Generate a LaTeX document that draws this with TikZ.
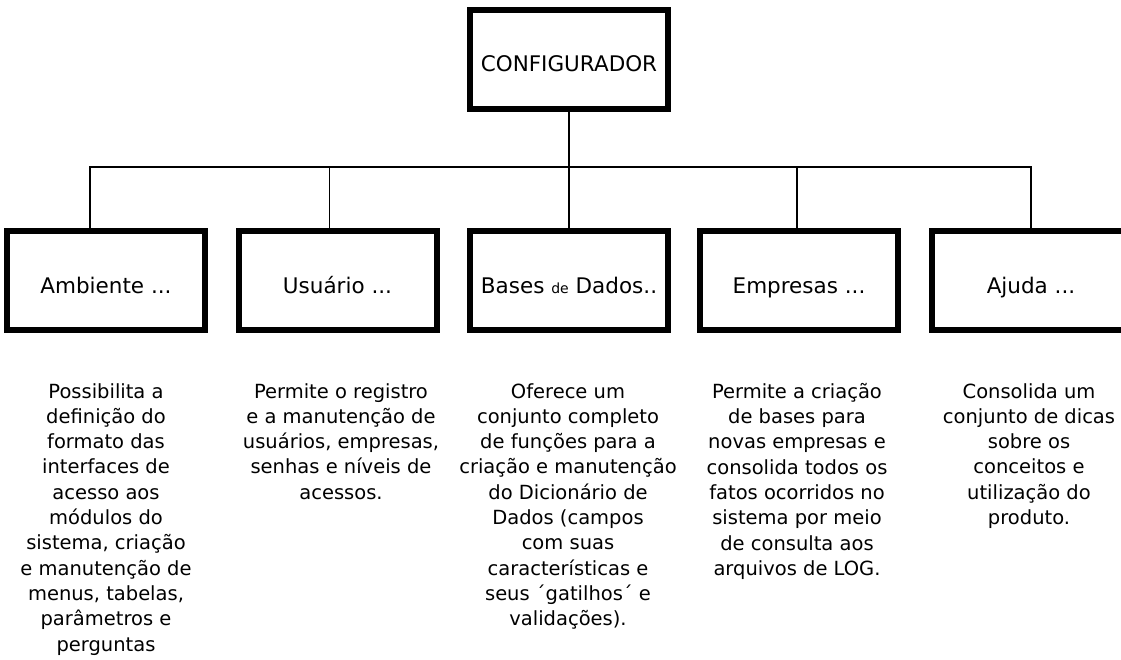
\documentclass[tikz,border=0pt]{standalone}
\usepackage{fontspec}
\setmainfont{DejaVu Sans}
\usetikzlibrary{positioning,calc}

\begin{document}
\begin{tikzpicture}[x=1pt, y=-1pt,
  modbox/.style={draw, line width=6pt, minimum width=198pt, minimum height=99pt,
    inner sep=0pt, text height=25pt, text depth=0pt,
    font=\fontsize{21.5}{26}\selectfont},
  desc/.style={anchor=north, align=center, inner sep=0pt,
    font=\fontsize{19.5}{25.3}\selectfont},
  conn/.style={line width=1.5pt}]
\useasboundingbox (0,0) rectangle (1121,660);
\clip (0,0) rectangle (1121,660);
% ---------- root ----------
\node[modbox] (cfg) at (569,59.5) {CONFIGURADOR};
% ---------- modules ----------
\node[modbox] (amb) at (106,280.5) {Ambiente ...};
\node[modbox] (usu) at (337.5,280.5) {Usuário ...};
\node[modbox] (bas) at (569,280.5) {Bases {\fontsize{14}{16}\selectfont de} Dados..};
\node[modbox] (emp) at (799,280.5) {Empresas ...};
\node[modbox] (aju) at (1031,280.5) {Ajuda ...};
% ---------- links ----------
\coordinate (bus) at (569,167);
\draw[conn] (cfg.south) -- (bas.north);
\draw[conn] ([xshift=-16pt]amb.north) -- ([xshift=-16pt]amb.north |- bus) -- (aju.north |- bus) -- (aju.north);
\draw[conn] ([xshift=-8pt]usu.north |- bus) -- ([xshift=-8pt]usu.north);
\draw[conn] ([xshift=-2pt]emp.north |- bus) -- ([xshift=-2pt]emp.north);
% ---------- descriptions ----------
\node[desc] (ambtxt) at (106,383) {Possibilita a\\definição do\\formato das\\interfaces de\\acesso aos\\módulos do\\sistema, criação\\e manutenção de\\menus, tabelas,\\parâmetros e\\perguntas};
\node[desc] (usutxt) at (341,383) {Permite o registro\\e a manutenção de\\usuários, empresas,\\senhas e níveis de\\acessos.};
\node[desc] (bastxt) at (568,383) {Oferece um\\conjunto completo\\de funções para a\\criação e manutenção\\do Dicionário de\\Dados (campos\\com suas\\características e\\seus ´gatilhos´ e\\validações).};
\node[desc] (emptxt) at (797,383) {Permite a criação\\de bases para\\novas empresas e\\consolida todos os\\fatos ocorridos no\\sistema por meio\\de consulta aos\\arquivos de LOG.};
\node[desc] (ajutxt) at (1029,383) {Consolida um\\conjunto de dicas\\sobre os\\conceitos e\\utilização do\\produto.};
\end{tikzpicture}
\end{document}
